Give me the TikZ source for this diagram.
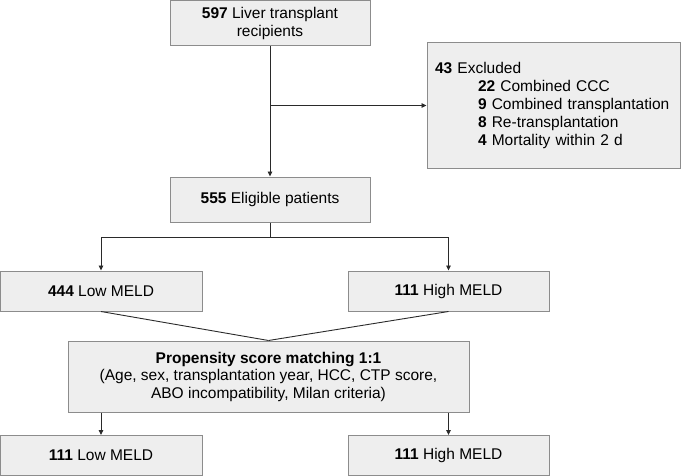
\documentclass[tikz,border=0pt]{standalone}
\usepackage{fontspec}
\setmainfont{Liberation Sans}
\usetikzlibrary{arrows.meta}
\definecolor{boxfill}{HTML}{EEEEEE}
\definecolor{boxdraw}{HTML}{8C8C8C}
\definecolor{linecol}{HTML}{2A2A2A}
\begin{document}
\begin{tikzpicture}[x=1pt,y=-1pt,
  box/.style={draw=boxdraw,fill=boxfill,line width=1pt,rectangle,inner sep=0pt,align=center,
    font=\fontsize{15.5}{18}\selectfont},
  conn/.style={draw=linecol,line width=0.9pt},
  arr/.style={conn,-{Triangle[length=5pt,width=4.5pt]}}]
\useasboundingbox (0,0) rectangle (685,476);
\node[box,minimum width=200,minimum height=45] (top) at (270,23.5) {\textbf{597} Liver transplant\\recipients};
\node[box,minimum width=253,minimum height=125,text width=237,align=left,inner xsep=8pt] (excl) at (553.5,105.5)
  {\textbf{43} Excluded\\
   \hspace*{43pt}\textbf{22} Combined CCC\\
   \hspace*{43pt}\textbf{9} Combined transplantation\\
   \hspace*{43pt}\textbf{8} Re-transplantation\\
   \hspace*{43pt}\textbf{4} Mortality within 2 d};
\node[box,minimum width=200,minimum height=45] (elig) at (270,199.5) {\textbf{555} Eligible patients};
\node[box,minimum width=202,minimum height=40] (low) at (101,291) {\textbf{444} Low MELD};
\node[box,minimum width=201,minimum height=40] (high) at (448.5,291) {\textbf{111} High MELD};
\node[box,minimum width=401,minimum height=71,font=\fontsize{15.5}{17.5}\selectfont] (psm) at (268.5,376.5)
  {\textbf{Propensity score matching 1:1}\\(Age, sex, transplantation year, HCC, CTP score,\\ABO incompatibility, Milan criteria)};
\node[box,minimum width=202,minimum height=40] (low2) at (101,455.5) {\textbf{111} Low MELD};
\node[box,minimum width=201,minimum height=40] (high2) at (448.5,455.5) {\textbf{111} High MELD};
\coordinate (branch) at (top.south |- excl.west);
\coordinate (split) at (270,237);
\draw[arr] (top.south) -- (elig.north);
\draw[arr] (branch) -- (excl.west);
\draw[conn] (elig.south) -- (split);
\draw[arr] (split) -| (low.north);
\draw[arr] (split) -| (high.north);
\draw[conn] (low.south) -- (psm.north);
\draw[conn] (high.south) -- (psm.north);
\draw[arr] (psm.south -| low2.north) -- (low2.north);
\draw[arr] (psm.south -| high2.north) -- (high2.north);
\end{tikzpicture}
\end{document}
